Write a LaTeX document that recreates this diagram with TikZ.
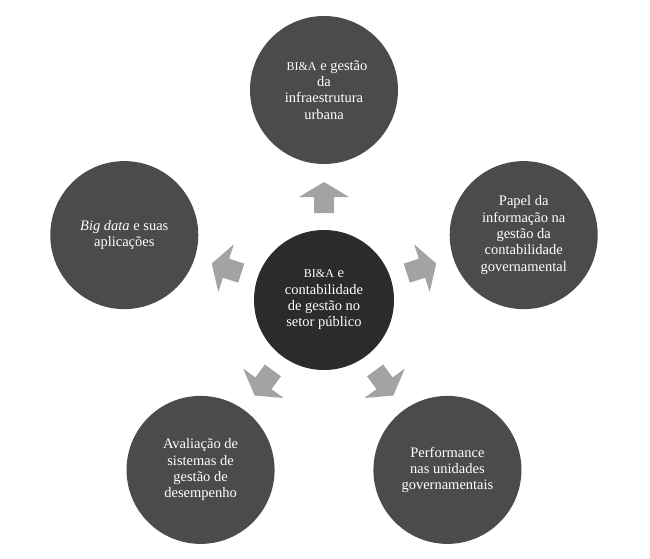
\documentclass[tikz,border=0pt]{standalone}
\usepackage{fontspec}
\setmainfont{Liberation Serif}
\definecolor{circgray}{HTML}{4B4B4B}
\definecolor{hubgray}{HTML}{2B2B2B}
\definecolor{arrowgray}{HTML}{A3A3A3}
\begin{document}
\begin{tikzpicture}[x=1pt,y=1pt,
  bubble/.style={circle, fill=circgray, minimum size=148pt, inner sep=0pt, text=white, align=center, font=\fontsize{14.5}{16.3}\selectfont},
  hub/.style={bubble, fill=hubgray, minimum size=140pt},
  blockarrow/.style={fill=arrowgray}]
\useasboundingbox (0,0) rectangle (650,558);
\coordinate (c) at (324,258);
\node[hub] (hub) at (c) {{\fontsize{12}{16.3}\selectfont BI\&A} e\\contabilidade\\de gestão no\\setor público};
\node[bubble] (top) at ([shift={(90:210)}]c) {\hspace*{6pt}{\fontsize{12}{16.3}\selectfont BI\&A} e gestão\\da\\infraestrutura\\urbana};
\node[bubble] (right) at ([shift={(18:210)}]c) {Papel da\\informação na\\gestão da\\contabilidade\\governamental};
\node[bubble] (left) at ([shift={(162:210)}]c) {\textit{Big data} e suas\\aplicações};
\node[bubble] (bl) at ([shift={(234:210)}]c) {Avaliação de\\sistemas de\\gestão de\\desempenho};
\node[bubble] (br) at ([shift={(306:210)}]c) {Performance\\nas unidades\\governamentais};
\foreach \a in {90,18,162,234,306}
  \fill[blockarrow, shift={(c)}, rotate=\a-90] (-10,87) -- (10,87) -- (10,103) -- (25,103) -- (0,118) -- (-25,103) -- (-10,103) -- cycle;
\end{tikzpicture}
\end{document}
